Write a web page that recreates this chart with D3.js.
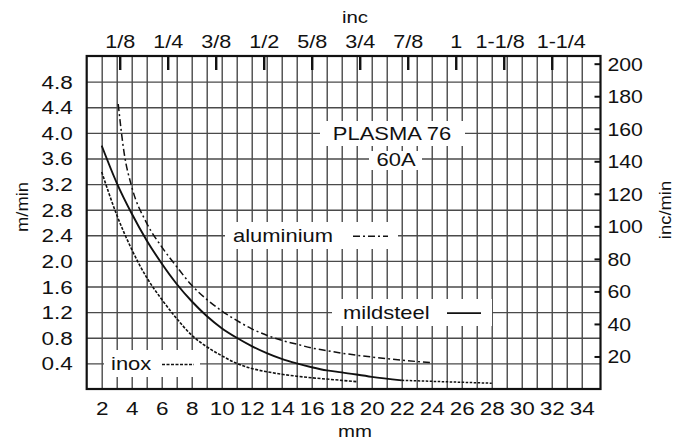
<!DOCTYPE html>
<html><head><meta charset="utf-8">
<script src="https://cdn.jsdelivr.net/npm/d3@7"></script>
<style>
body{margin:0;background:#fff}
svg{display:block}
text{font-family:"Liberation Sans",Arial,Helvetica,sans-serif;fill:#111}
</style>
</head><body>
<svg id="c" width="687" height="446"></svg>
<script>
// ---- data ----
const mmTickValues = [2,4,6,8,10,12,14,16,18,20,22,24,26,28,30,32,34];
const incTickValues = [0.125,0.25,0.375,0.5,0.625,0.75,0.875,1,1.125,1.25];
const incTickLabels = ["1/8","1/4","3/8","1/2","5/8","3/4","7/8","1","1-1/8","1-1/4"];
const mminTickValues = [0.4,0.8,1.2,1.6,2.0,2.4,2.8,3.2,3.6,4.0,4.4,4.8];
const incminTickValues = [20,40,60,80,100,120,140,160,180,200];

const mildsteelMM = [2,3,4,5,6,7,8,9,10,11,12,13,14,15,16,17,18,20,22];
const mildsteelV  = [3.80,3.22,2.74,2.32,1.96,1.64,1.37,1.14,0.95,0.80,0.67,0.56,0.47,0.40,0.34,0.29,0.26,0.19,0.135];
const mildsteelExtMM = [22,24,26,28];
const mildsteelExtV  = [0.135,0.12,0.105,0.09];

const aluminiumMM = [3.1,3.5,4,5,6,7,8,9,10,11,12,13,14,15,16,17,18,20,22,24];
const aluminiumV  = [4.45,3.68,3.16,2.59,2.22,1.91,1.62,1.40,1.22,1.07,0.94,0.84,0.76,0.70,0.64,0.60,0.56,0.50,0.45,0.41];

const inoxMM = [2,3,4,5,6,7,8,9,10,11,12,13,14,15,16,17,18,19];
const inoxV  = [3.39,2.72,2.18,1.74,1.40,1.10,0.84,0.66,0.52,0.40,0.32,0.27,0.23,0.20,0.175,0.155,0.135,0.115];

// ---- layout ----
const svg = d3.select("#c");
const L = 86.7, R = 600.5, T = 56, B = 389;
const x = d3.scaleLinear().domain([1, 35.25]).range([L, R]);
const y = d3.scaleLinear().domain([0, 5.2]).range([B, T]);
const MM_PER_INCH_DRAWN = 25.6;
const xInc = d3.scaleLinear().domain([0, 1.4]).range([x(0), x(1.4 * MM_PER_INCH_DRAWN)]);
const yIncMin = d3.scaleLinear().domain([0, 200]).range([y(0), y(200 * 0.0254)]);

const SX = 1.25; // horizontal stretch of the lettering
const gridColor = "#4a4a4a";

// grid
const gv = svg.append("g").attr("transform", `translate(0,${B})`)
  .call(d3.axisBottom(x).tickValues(d3.range(2, 35)).tickSize(-(B - T)).tickFormat(""));
gv.select(".domain").remove();
gv.selectAll("line").attr("stroke", gridColor).attr("stroke-width", 1.4);

const gh = svg.append("g").attr("transform", `translate(${L},0)`)
  .call(d3.axisLeft(y).tickValues(mminTickValues).tickSize(-(R - L)).tickFormat(""));
gh.select(".domain").remove();
gh.selectAll("line").attr("stroke", gridColor).attr("stroke-width", 1.4);

// label boxes (white, hide grid)
const boxes = [
  {x0: 320, x1: 465, y0: 121, y1: 146},
  {x0: 369, x1: 422, y0: 151, y1: 170},
  {x0: 225, x1: 398, y0: 222, y1: 249},
  {x0: 332, x1: 492, y0: 299, y1: 326},
  {x0: 104, x1: 200, y0: 350, y1: 377}
];
svg.append("g").selectAll("rect").data(boxes).join("rect")
  .attr("x", d => d.x0).attr("y", d => d.y0)
  .attr("width", d => d.x1 - d.x0).attr("height", d => d.y1 - d.y0)
  .attr("fill", "#fff");

function txt(px, py, s, size, anchor, sx, rot) {
  return svg.append("text")
    .attr("transform", `translate(${px},${py})` + (rot ? ` rotate(${rot})` : "") + ` scale(${sx},1)`)
    .attr("text-anchor", anchor).attr("font-size", size).text(s);
}

// legend / annotation texts
txt(392, 139.5, "PLASMA 76", 18, "middle", 1.22);
txt(396, 165.5, "60A", 18, "middle", 1.22);
txt(233, 241.5, "aluminium", 18, "start", 1.22);
txt(343, 318.5, "mildsteel", 18, "start", 1.22);
txt(111, 370, "inox", 18, "start", 1.22);

// legend samples
const samples = [
  {x0: 353, x1: 388, yv: 2.4, dash: "7,3,2,3", w: 1.5},
  {x0: 447, x1: 481, yv: 1.2, dash: null, w: 1.8},
  {x0: 162, x1: 194, yv: 0.4, dash: "3,1.5", w: 1.5}
];
svg.append("g").selectAll("line").data(samples).join("line")
  .attr("x1", d => d.x0).attr("x2", d => d.x1)
  .attr("y1", d => y(d.yv) + 1).attr("y2", d => y(d.yv) + 1)
  .attr("stroke", "#111").attr("stroke-width", d => d.w)
  .attr("stroke-dasharray", d => d.dash);

// curves
const line = d3.line().x(d => x(d[0])).y(d => y(d[1])).curve(d3.curveMonotoneX);
function curve(xs, vs, dash, w) {
  svg.append("path").datum(xs.map((v, i) => [v, vs[i]]))
    .attr("d", line).attr("fill", "none").attr("stroke", "#111")
    .attr("stroke-width", w).attr("stroke-dasharray", dash);
}
curve(aluminiumMM, aluminiumV, "7,3,2,3", 1.5);
curve(mildsteelMM, mildsteelV, null, 1.9);
curve(mildsteelExtMM, mildsteelExtV, "2.5,1.5", 1.5);
curve(inoxMM, inoxV, "3,1.5", 1.6);

// top axis (inches): thick inward ticks + labels
const gt = svg.append("g").attr("transform", `translate(0,${T})`)
  .call(d3.axisTop(xInc).tickValues(incTickValues).tickSize(-14)
        .tickFormat((d, i) => incTickLabels[i]));
gt.select(".domain").remove();
gt.selectAll("line").attr("stroke", "#111").attr("stroke-width", 2.4);
gt.selectAll("text").attr("y", 0).attr("dy", null)
  .attr("dx", (d, i) => i === 8 ? -3.5 : (i === 9 ? 7.5 : 0))
  .attr("transform", `translate(0,-8) scale(1.2,1)`)
  .attr("font-size", 18).attr("fill", "#111")
  .attr("font-family", '"Liberation Sans",Arial,sans-serif');

// bottom axis labels (mm)
const gb = svg.append("g").attr("transform", `translate(0,${B})`)
  .call(d3.axisBottom(x).tickValues(mmTickValues).tickSize(0));
gb.select(".domain").remove();
gb.selectAll("text").attr("y", 0).attr("dy", null)
  .attr("transform", `translate(0,26) scale(${SX},1)`)
  .attr("font-size", 18).attr("fill", "#111")
  .attr("font-family", '"Liberation Sans",Arial,sans-serif');

// left axis labels (m/min)
const gl = svg.append("g").attr("transform", `translate(${L},0)`)
  .call(d3.axisLeft(y).tickValues(mminTickValues).tickSize(0).tickFormat(d3.format(".1f")));
gl.select(".domain").remove();
gl.selectAll("text").attr("x", 0).attr("dy", null)
  .attr("transform", `translate(-14,6.5) scale(${SX},1)`)
  .attr("font-size", 18).attr("fill", "#111")
  .attr("font-family", '"Liberation Sans",Arial,sans-serif');

// right axis (inc/min)
const gr = svg.append("g").attr("transform", `translate(${R},0)`)
  .call(d3.axisRight(yIncMin).tickValues(incminTickValues).tickSize(-6));
gr.select(".domain").remove();
gr.selectAll("line").attr("stroke", "#111").attr("stroke-width", 2);
gr.selectAll("text").attr("x", 0).attr("dy", null)
  .attr("transform", `translate(7,6.5) scale(1.18,1)`)
  .attr("font-size", 18).attr("fill", "#111")
  .attr("font-family", '"Liberation Sans",Arial,sans-serif');

// frame
svg.append("rect").attr("x", L).attr("y", T).attr("width", R - L).attr("height", B - T)
  .attr("fill", "none").attr("stroke", "#111").attr("stroke-width", 2.2);

// axis titles
txt(355, 23, "inc", 17, "middle", 1.2);
txt(355, 437, "mm", 17, "middle", 1.2);
txt(28, 207, "m/min", 16, "middle", 1.15, -90);
txt(671, 210, "inc/min", 16, "middle", 1.15, -90);
</script>
</body></html>
